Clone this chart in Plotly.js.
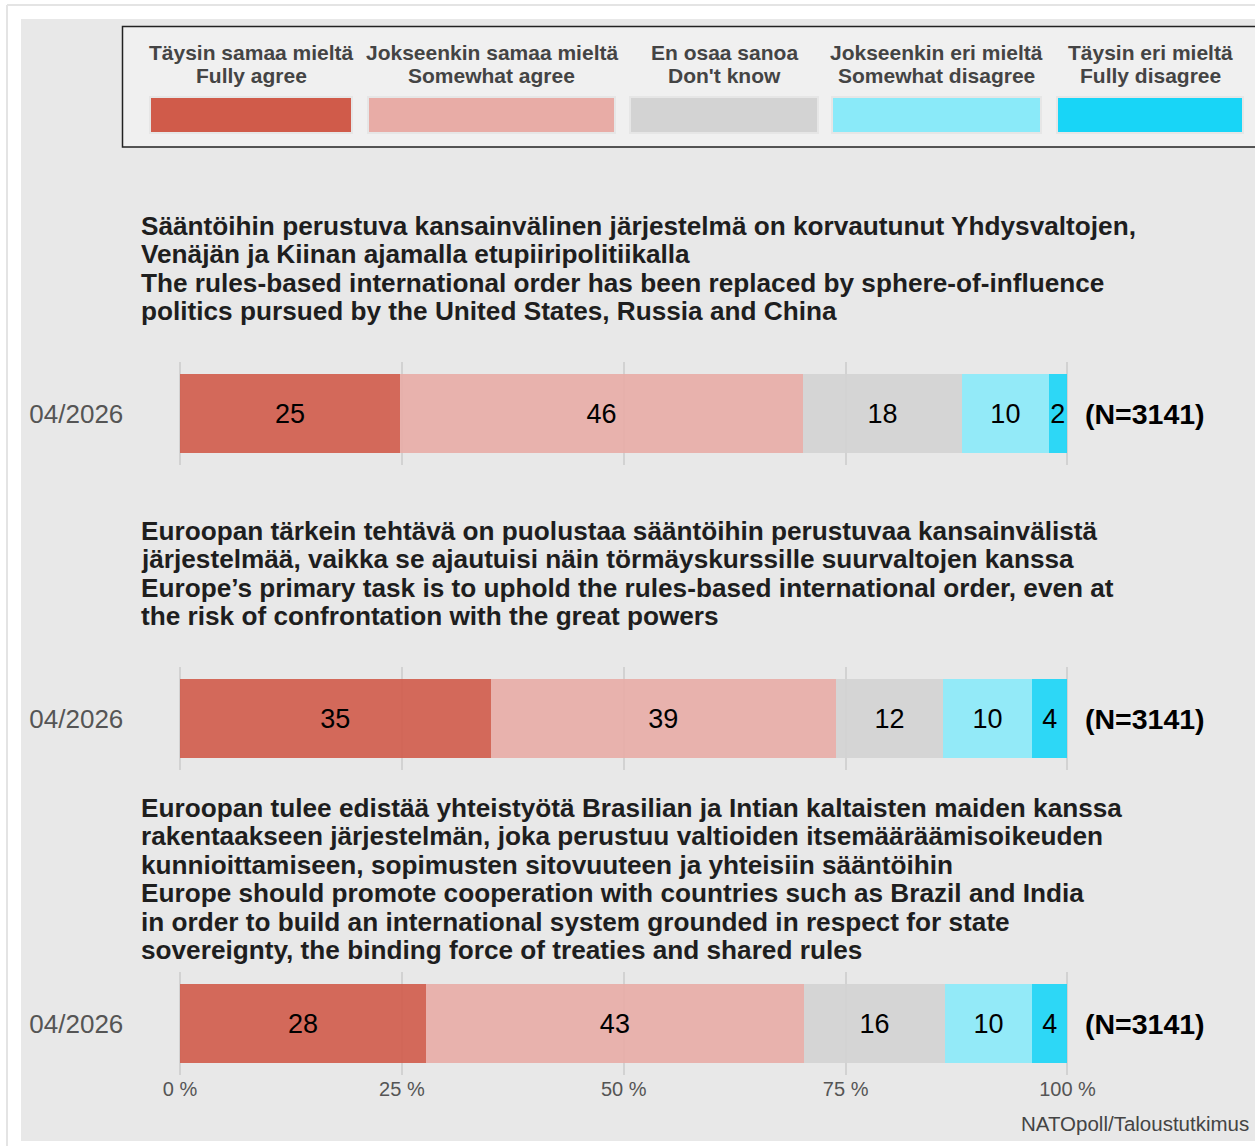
<!DOCTYPE html>
<html>
<head>
<meta charset="utf-8">
<script src="https://cdn.plot.ly/plotly-3.0.1.min.js"></script>
<style>html,body{margin:0;padding:0;background:#fff;}#chart{width:1255px;height:1146px;}</style>
</head>
<body>
<div id="chart"></div>
<script>
// ---------- DATA ----------
const categoriesFi = ['Täysin samaa mieltä', 'Jokseenkin samaa mieltä', 'En osaa sanoa', 'Jokseenkin eri mieltä', 'Täysin eri mieltä'];
const categoriesEn = ['Fully agree', 'Somewhat agree', "Don't know", 'Somewhat disagree', 'Fully disagree'];
const period = ['04/2026'];
const q1Values = [24.8, 45.4, 17.9, 9.8, 2.0];
const q1Labels = [25, 46, 18, 10, 2];
const q2Values = [35.0, 38.9, 12.1, 10.0, 4.0];
const q2Labels = [35, 39, 12, 10, 4];
const q3Values = [27.7, 42.6, 15.9, 9.8, 4.0];
const q3Labels = [28, 43, 16, 10, 4];
const nLabels = ['(N=3141)', '(N=3141)', '(N=3141)'];
const q1Lines = [
  'Sääntöihin perustuva kansainvälinen järjestelmä on korvautunut Yhdysvaltojen,',
  'Venäjän ja Kiinan ajamalla etupiiripolitiikalla',
  'The rules-based international order has been replaced by sphere-of-influence',
  'politics pursued by the United States, Russia and China'
];
const q2Lines = [
  'Euroopan tärkein tehtävä on puolustaa sääntöihin perustuvaa kansainvälistä',
  'järjestelmää, vaikka se ajautuisi näin törmäyskurssille suurvaltojen kanssa',
  'Europe’s primary task is to uphold the rules-based international order, even at',
  'the risk of confrontation with the great powers'
];
const q3Lines = [
  'Euroopan tulee edistää yhteistyötä Brasilian ja Intian kaltaisten maiden kanssa',
  'rakentaakseen järjestelmän, joka perustuu valtioiden itsemääräämisoikeuden',
  'kunnioittamiseen, sopimusten sitovuuteen ja yhteisiin sääntöihin',
  'Europe should promote cooperation with countries such as Brazil and India',
  'in order to build an international system grounded in respect for state',
  'sovereignty, the binding force of treaties and shared rules'
];
const xTicks = [0, 25, 50, 75, 100];
const xTickText = ['0 %', '25 %', '50 %', '75 %', '100 %'];
const source = 'NATOpoll/Taloustutkimus';

// ---------- STYLE ----------
const colors = ['#d05b4a', '#e8aca6', '#d3d3d3', '#8aeaf9', '#18d5f7'];
const W = 1255, H = 1146;
const FONT = 'Liberation Sans, Arial, Helvetica, sans-serif';
const px = v => v / W;
const py = v => 1 - v / H;
const pxPerUnit = 887.5 / 100;
const pad = 0.3; // small range padding so the 0 and 100 grid lines are drawn

const questions = [
  {vals: q1Values, labs: q1Labels, lines: q1Lines, top: 362, bot: 465, textY: 226},
  {vals: q2Values, labs: q2Labels, lines: q2Lines, top: 667, bot: 770, textY: 531},
  {vals: q3Values, labs: q3Labels, lines: q3Lines, top: 972, bot: 1075, textY: 808}
];

const traces = [];
const layout = {
  width: W, height: H,
  margin: {l: 0, r: 0, t: 0, b: 0},
  paper_bgcolor: '#ffffff',
  plot_bgcolor: 'rgba(0,0,0,0)',
  barmode: 'stack',
  showlegend: false,
  font: {family: FONT},
  shapes: [],
  annotations: []
};

questions.forEach((q, qi) => {
  const sfx = qi === 0 ? '' : String(qi + 1);
  categoriesEn.forEach((cat, ci) => {
    traces.push({
      type: 'bar', orientation: 'h',
      x: [q.vals[ci]], y: period,
      xaxis: 'x' + sfx, yaxis: 'y' + sfx,
      name: cat,
      width: 0.765,
      marker: {color: colors[ci], opacity: 0.9, line: {width: 0}},
      text: [String(q.labs[ci])],
      textposition: 'inside',
      insidetextanchor: 'middle',
      constraintext: 'none',
      textfont: {family: FONT, size: 27, color: '#000'},
      hoverinfo: 'skip'
    });
  });
  layout['xaxis' + sfx] = {
    domain: [px(180 - pad * pxPerUnit), px(1067.5 + pad * pxPerUnit)],
    range: [-pad, 100 + pad],
    anchor: 'y' + sfx,
    tickmode: 'array',
    tickvals: xTicks,
    ticktext: xTickText,
    showticklabels: qi === 2,
    ticks: '',
    showgrid: true, gridcolor: '#d2d2d2', gridwidth: 2,
    zeroline: false, showline: false,
    tickfont: {family: FONT, size: 20, color: '#555'},
    fixedrange: true
  };
  layout['yaxis' + sfx] = {
    domain: [py(q.bot), py(q.top)],
    anchor: 'x' + sfx,
    type: 'category',
    range: [-0.5, 0.5],
    ticks: '',
    ticklabelstandoff: 53,
    showgrid: false, zeroline: false, showline: false,
    tickfont: {family: FONT, size: 26, color: '#555'},
    fixedrange: true
  };
  // N label
  layout.annotations.push({
    xref: 'x' + sfx, yref: 'y' + sfx, x: 100, y: period[0],
    xanchor: 'left', yanchor: 'middle', xshift: 16, showarrow: false,
    text: '<b>' + nLabels[qi] + '</b>',
    font: {family: FONT, size: 28.5, color: '#000'}
  });
  // question text
  q.lines.forEach((line, li) => {
    layout.annotations.push({
      xref: 'paper', yref: 'paper', x: px(139), y: py(q.textY + li * 28.45),
      xanchor: 'left', yanchor: 'middle', showarrow: false,
      text: '<b>' + line + '</b>',
      font: {family: FONT, size: 26.2, color: '#1e1e1e'}
    });
  });
});

// frame and panel
layout.shapes.push(
  {type: 'rect', xref: 'paper', yref: 'paper', x0: px(21), x1: px(1262), y0: py(1141), y1: py(19),
   fillcolor: '#e8e8e8', line: {width: 0}, layer: 'below'},
  {type: 'line', xref: 'paper', yref: 'paper', x0: px(7), x1: px(7), y0: py(1150), y1: py(5),
   line: {color: '#e4e4e4', width: 2}, layer: 'below'},
  {type: 'line', xref: 'paper', yref: 'paper', x0: px(7), x1: px(1262), y0: py(5), y1: py(5),
   line: {color: '#e4e4e4', width: 2}, layer: 'below'},
  {type: 'rect', xref: 'paper', yref: 'paper', x0: px(122.5), x1: px(1270), y0: py(147), y1: py(26.5),
   fillcolor: '#f0f0f0', line: {color: '#222', width: 1.5}, layer: 'below'}
);

// custom legend
const legendBoxes = [[150, 352], [368, 615], [630, 818], [832, 1041], [1057, 1243]];
categoriesEn.forEach((cat, ci) => {
  const [a, b] = legendBoxes[ci];
  layout.shapes.push({
    type: 'rect', xref: 'paper', yref: 'paper', x0: px(a), x1: px(b), y0: py(133), y1: py(97),
    fillcolor: colors[ci], line: {color: '#e6e6e6', width: 2}, layer: 'below'
  });
  const cx = px((a + b) / 2);
  layout.annotations.push(
    {xref: 'paper', yref: 'paper', x: cx, y: py(52.5), xanchor: 'center', yanchor: 'middle', showarrow: false,
     text: '<b>' + categoriesFi[ci] + '</b>', font: {family: FONT, size: 21, color: '#444'}},
    {xref: 'paper', yref: 'paper', x: cx, y: py(75.5), xanchor: 'center', yanchor: 'middle', showarrow: false,
     text: '<b>' + cat + '</b>', font: {family: FONT, size: 21, color: '#444'}}
  );
});

// source
layout.annotations.push({
  xref: 'paper', yref: 'paper', x: px(1251), y: py(1123), xanchor: 'right', yanchor: 'middle', showarrow: false,
  text: source, font: {family: FONT, size: 20.5, color: '#444'}
});

Plotly.newPlot('chart', traces, layout, {staticPlot: true, displayModeBar: false});
</script>
</body>
</html>
